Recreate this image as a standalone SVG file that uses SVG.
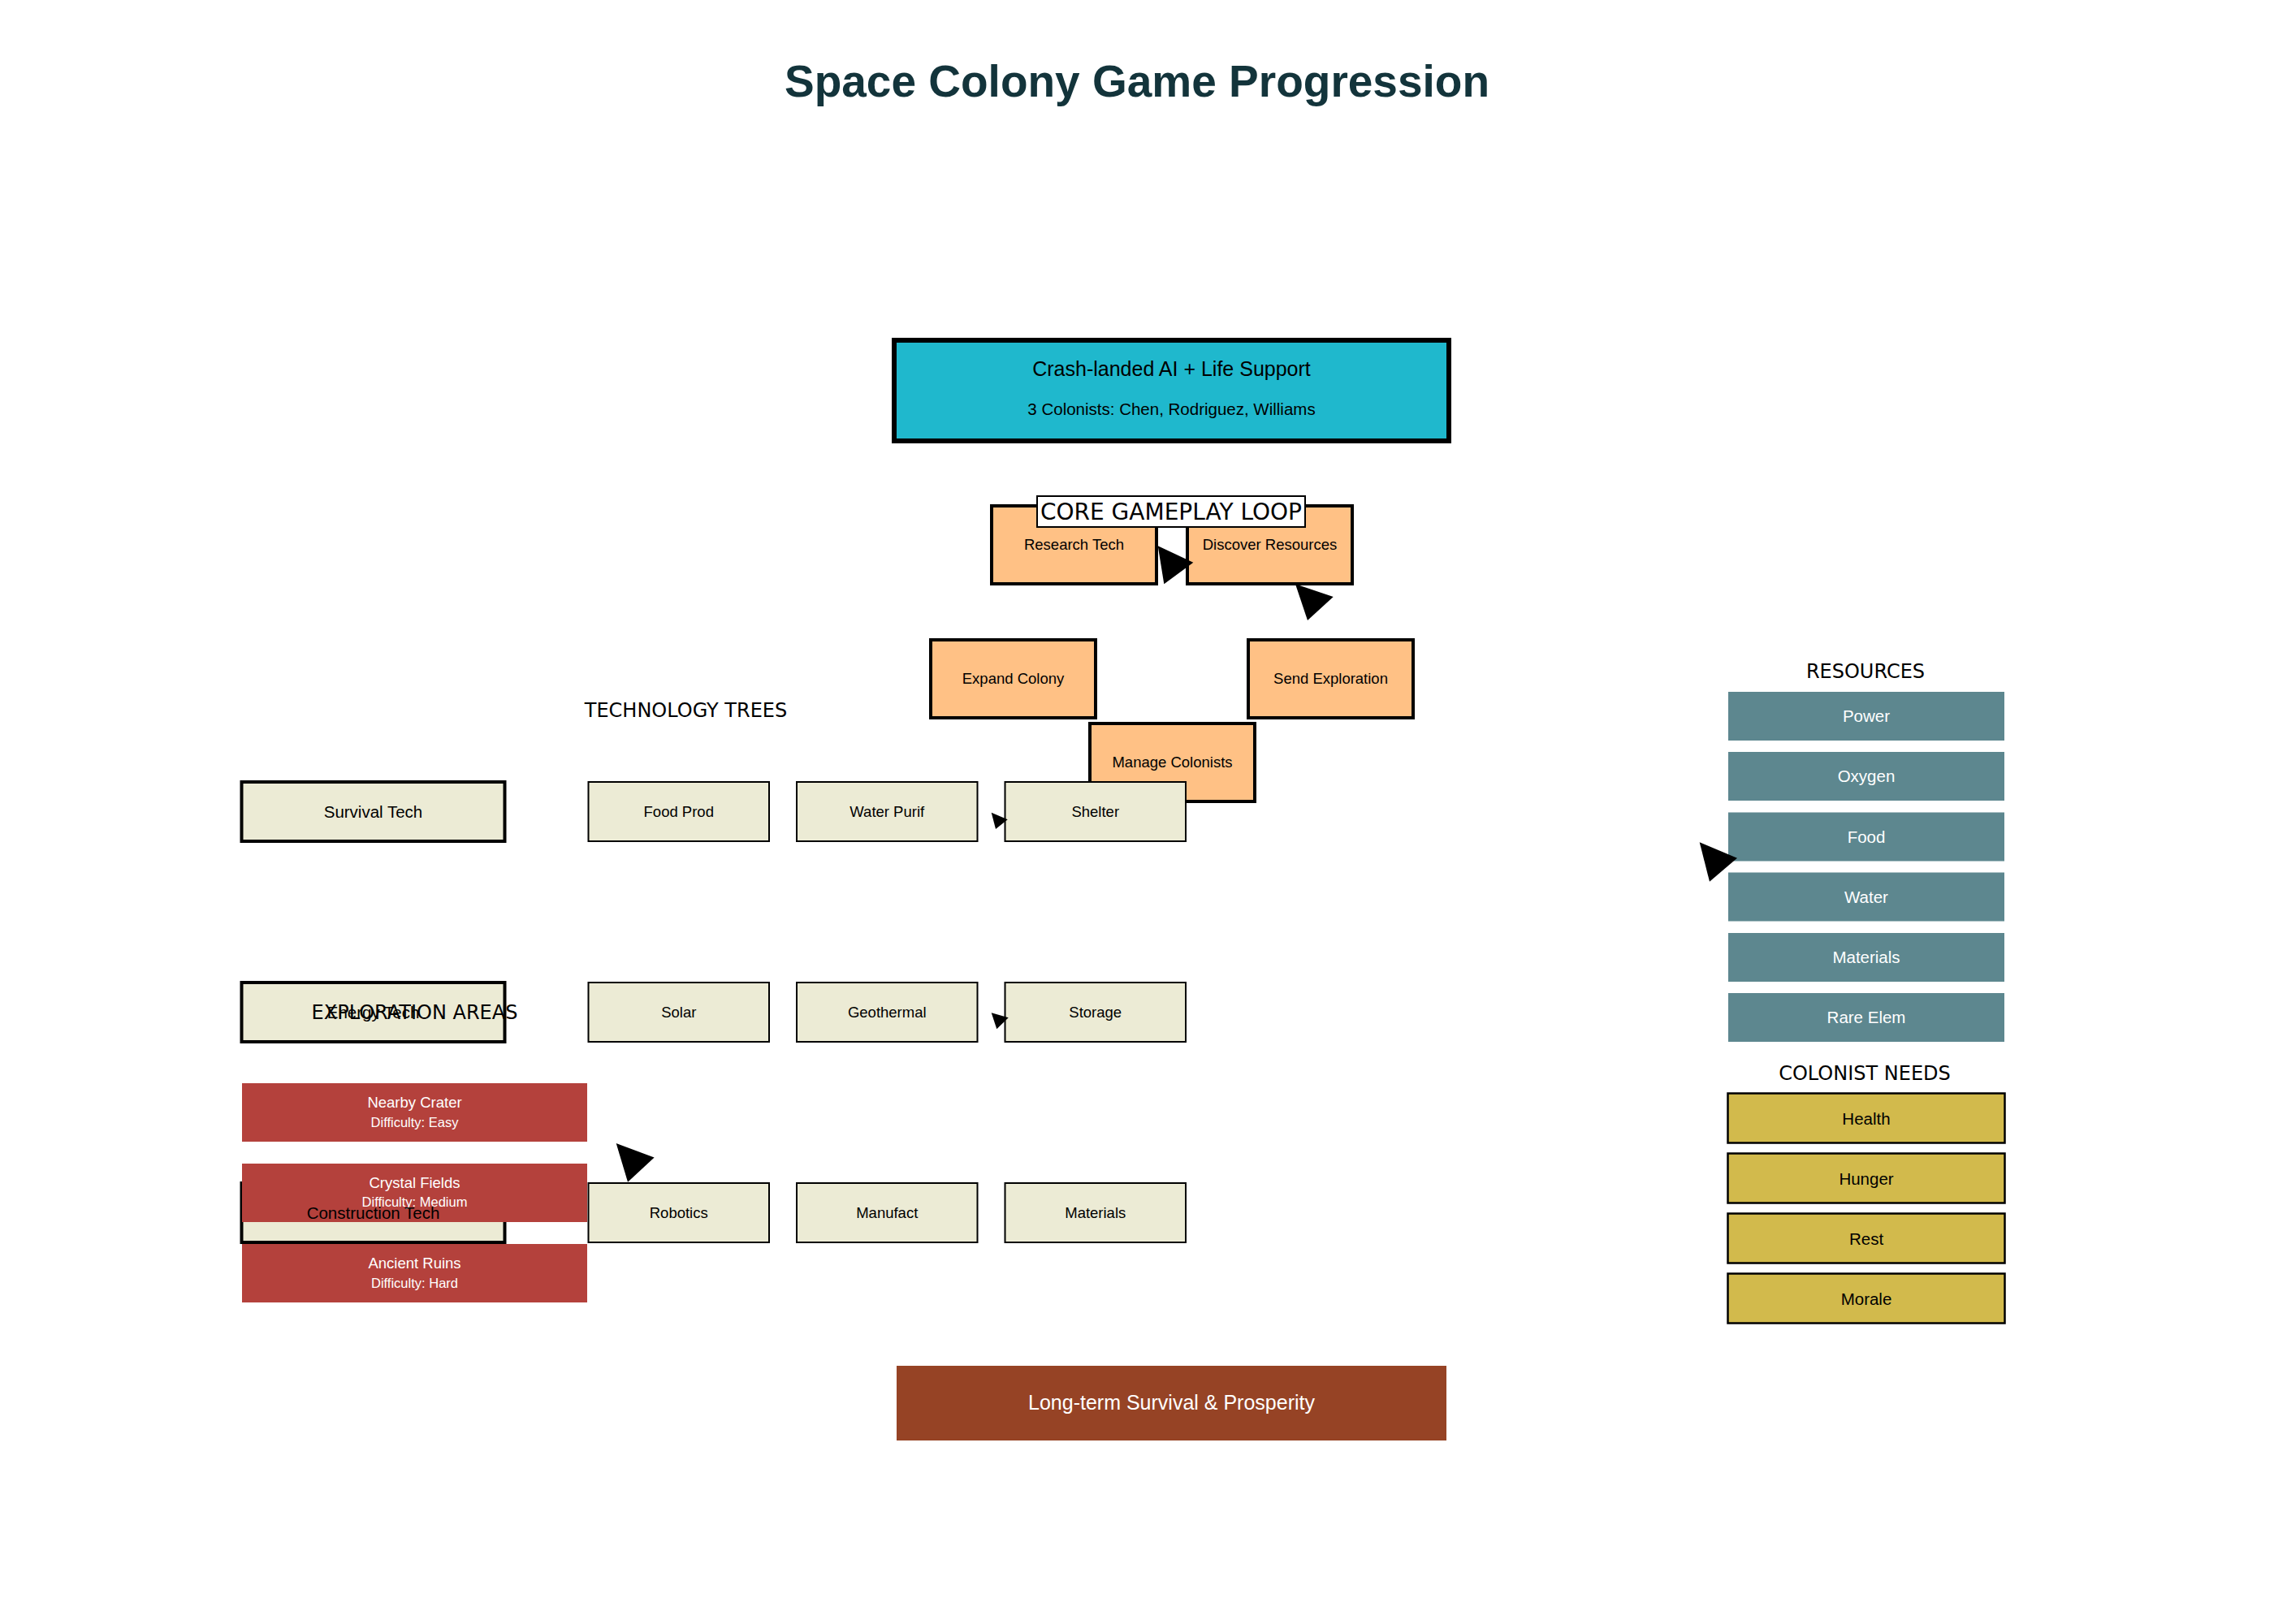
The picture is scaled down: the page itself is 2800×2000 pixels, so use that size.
<svg xmlns="http://www.w3.org/2000/svg" width="2800" height="2000" viewBox="0 0 2800 2000">
<style>
text{font-family:"Liberation Sans",Arial,sans-serif;text-anchor:middle}
.title{font-size:55px;font-weight:bold;fill:#13343B}
.head{font-family:"DejaVu Sans",sans-serif;font-size:24px;fill:#000}
.core{font-family:"DejaVu Sans",sans-serif;font-size:28px;fill:#000}
.start{fill:#1FB8CD;stroke:#000;stroke-width:6}
.loop{fill:#FFC185;stroke:#000;stroke-width:4}
.cat{fill:#ECEBD5;stroke:#000;stroke-width:4}
.tech{fill:#ECEBD5;stroke:#000;stroke-width:2}
.area{fill:#B4413C}
.res{fill:#5D878F}
.need{fill:#D2BA4C;stroke:#000;stroke-width:2.5}
.goal{fill:#964325}
.t25{font-size:25px;fill:#000}
.t20{font-size:20.5px;fill:#000}
.t18{font-size:18.5px;fill:#000}
.w18{font-size:18.5px;fill:#fff}
.w16{font-size:16.5px;fill:#fff}
.w20{font-size:20.5px;fill:#fff}
.w25{font-size:25px;fill:#fff}
.arrowhead{fill:#000}
</style>
<rect width="2800" height="2000" fill="#fff"/>
<text class="title" x="1400" y="119">Space Colony Game Progression</text>

<g id="start">
<rect class="start" x="1101" y="419" width="683" height="124"/>
<text class="t25" x="1442.5" y="463">Crash-landed AI + Life Support</text>
<text x="1442.5" y="511" style="font-size:20.5px;fill:#000">3 Colonists: Chen, Rodriguez, Williams</text>
</g>

<g id="research-tech"><rect class="loop" x="1221" y="623" width="203" height="96"/><text class="t18" x="1322.5" y="677">Research Tech</text></g>
<g id="discover-resources"><rect class="loop" x="1462" y="623" width="203" height="96"/><text class="t18" x="1563.5" y="677">Discover Resources</text></g>
<g id="expand-colony"><rect class="loop" x="1146" y="788" width="203" height="96"/><text class="t18" x="1247.5" y="842">Expand Colony</text></g>
<g id="send-exploration"><rect class="loop" x="1537" y="788" width="203" height="96"/><text class="t18" x="1638.5" y="842">Send Exploration</text></g>
<g id="manage-colonists"><rect class="loop" x="1342" y="891" width="203" height="96"/><text class="t18" x="1443.5" y="945">Manage Colonists</text></g>

<g id="core-label">
<rect x="1277" y="611" width="330" height="38" fill="#fff" stroke="#000" stroke-width="2"/>
<text class="core" x="1442" y="640">CORE GAMEPLAY LOOP</text>
</g>

<text class="head" x="844.5" y="883">TECHNOLOGY TREES</text>

<g id="survival-tech"><rect class="cat" x="297.5" y="963" width="324" height="73"/><text class="t20" x="459.5" y="1006.5">Survival Tech</text></g>
<g id="food-prod"><rect class="tech" x="724.5" y="963" width="222.5" height="73"/><text class="t18" x="835.75" y="1006">Food Prod</text></g>
<g id="water-purif"><rect class="tech" x="981" y="963" width="222.5" height="73"/><text class="t18" x="1092.25" y="1006">Water Purif</text></g>
<g id="shelter"><rect class="tech" x="1237.5" y="963" width="222.5" height="73"/><text class="t18" x="1348.75" y="1006">Shelter</text></g>

<g id="energy-tech"><rect class="cat" x="297.5" y="1210" width="324" height="73"/><text class="t20" x="459.5" y="1253.5">Energy Tech</text></g>
<g id="solar"><rect class="tech" x="724.5" y="1210" width="222.5" height="73"/><text class="t18" x="835.75" y="1253">Solar</text></g>
<g id="geothermal"><rect class="tech" x="981" y="1210" width="222.5" height="73"/><text class="t18" x="1092.25" y="1253">Geothermal</text></g>
<g id="storage"><rect class="tech" x="1237.5" y="1210" width="222.5" height="73"/><text class="t18" x="1348.75" y="1253">Storage</text></g>

<g id="construction-tech"><rect class="cat" x="297.5" y="1457" width="324" height="73"/></g>
<g id="robotics"><rect class="tech" x="724.5" y="1457" width="222.5" height="73"/><text class="t18" x="835.75" y="1500">Robotics</text></g>
<g id="manufact"><rect class="tech" x="981" y="1457" width="222.5" height="73"/><text class="t18" x="1092.25" y="1500">Manufact</text></g>
<g id="materials-tech"><rect class="tech" x="1237.5" y="1457" width="222.5" height="73"/><text class="t18" x="1348.75" y="1500">Materials</text></g>

<text class="head" x="510.5" y="1255">EXPLORATION AREAS</text>

<g id="nearby-crater"><rect class="area" x="298" y="1334" width="425" height="72"/><text class="w18" x="510.5" y="1363.5">Nearby Crater</text><text class="w16" x="510.5" y="1388">Difficulty: Easy</text></g>
<g id="crystal-fields"><rect class="area" x="298" y="1433" width="425" height="72"/><text class="w18" x="510.5" y="1463">Crystal Fields</text><text class="w16" x="510.5" y="1486">Difficulty: Medium</text></g>
<g id="ancient-ruins"><rect class="area" x="298" y="1532" width="425" height="72"/><text class="w18" x="510.5" y="1562">Ancient Ruins</text><text class="w16" x="510.5" y="1586">Difficulty: Hard</text></g>

<g id="construction-tech-label"><text class="t20" x="459.5" y="1501">Construction Tech</text></g>

<text class="head" x="2297" y="835">RESOURCES</text>
<g id="power"><rect class="res" x="2128" y="852" width="340" height="60"/><text class="w20" x="2298" y="889">Power</text></g>
<g id="oxygen"><rect class="res" x="2128" y="926" width="340" height="60"/><text class="w20" x="2298" y="963">Oxygen</text></g>
<g id="food"><rect class="res" x="2128" y="1000.5" width="340" height="60"/><text class="w20" x="2298" y="1037.5">Food</text></g>
<g id="water"><rect class="res" x="2128" y="1074.5" width="340" height="60"/><text class="w20" x="2298" y="1111.5">Water</text></g>
<g id="materials"><rect class="res" x="2128" y="1149" width="340" height="60"/><text class="w20" x="2298" y="1186">Materials</text></g>
<g id="rare-elem"><rect class="res" x="2128" y="1223" width="340" height="60"/><text class="w20" x="2298" y="1260">Rare Elem</text></g>

<text class="head" x="2296" y="1330">COLONIST NEEDS</text>
<g id="health"><rect class="need" x="2127.5" y="1346.5" width="341" height="61"/><text class="t20" x="2298" y="1384.5">Health</text></g>
<g id="hunger"><rect class="need" x="2127.5" y="1420.5" width="341" height="61"/><text class="t20" x="2298" y="1458.5">Hunger</text></g>
<g id="rest"><rect class="need" x="2127.5" y="1494.5" width="341" height="61"/><text class="t20" x="2298" y="1532.5">Rest</text></g>
<g id="morale"><rect class="need" x="2127.5" y="1568.5" width="341" height="61"/><text class="t20" x="2298" y="1606.5">Morale</text></g>

<g id="long-term"><rect class="goal" x="1104" y="1682" width="677" height="92"/><text class="w25" x="1442.5" y="1736">Long-term Survival &amp; Prosperity</text></g>

<g id="connectors">
<polygon class="arrowhead" points="1425.7,672.3 1469.3,692.7 1433.3,719.3"/>
<polygon class="arrowhead" points="1595,719.3 1641.7,735 1610,764"/>
<polygon class="arrowhead" points="1220.7,1000.7 1240.7,1009.3 1226,1021"/>
<polygon class="arrowhead" points="1220.7,1247.3 1241.7,1253.3 1227.3,1267.3"/>
<polygon class="arrowhead" points="758.7,1408 805.6,1425.5 773,1455.7"/>
<polygon class="arrowhead" points="2092.7,1037.3 2139,1056.7 2105,1085.7"/>
</g>
</svg>
